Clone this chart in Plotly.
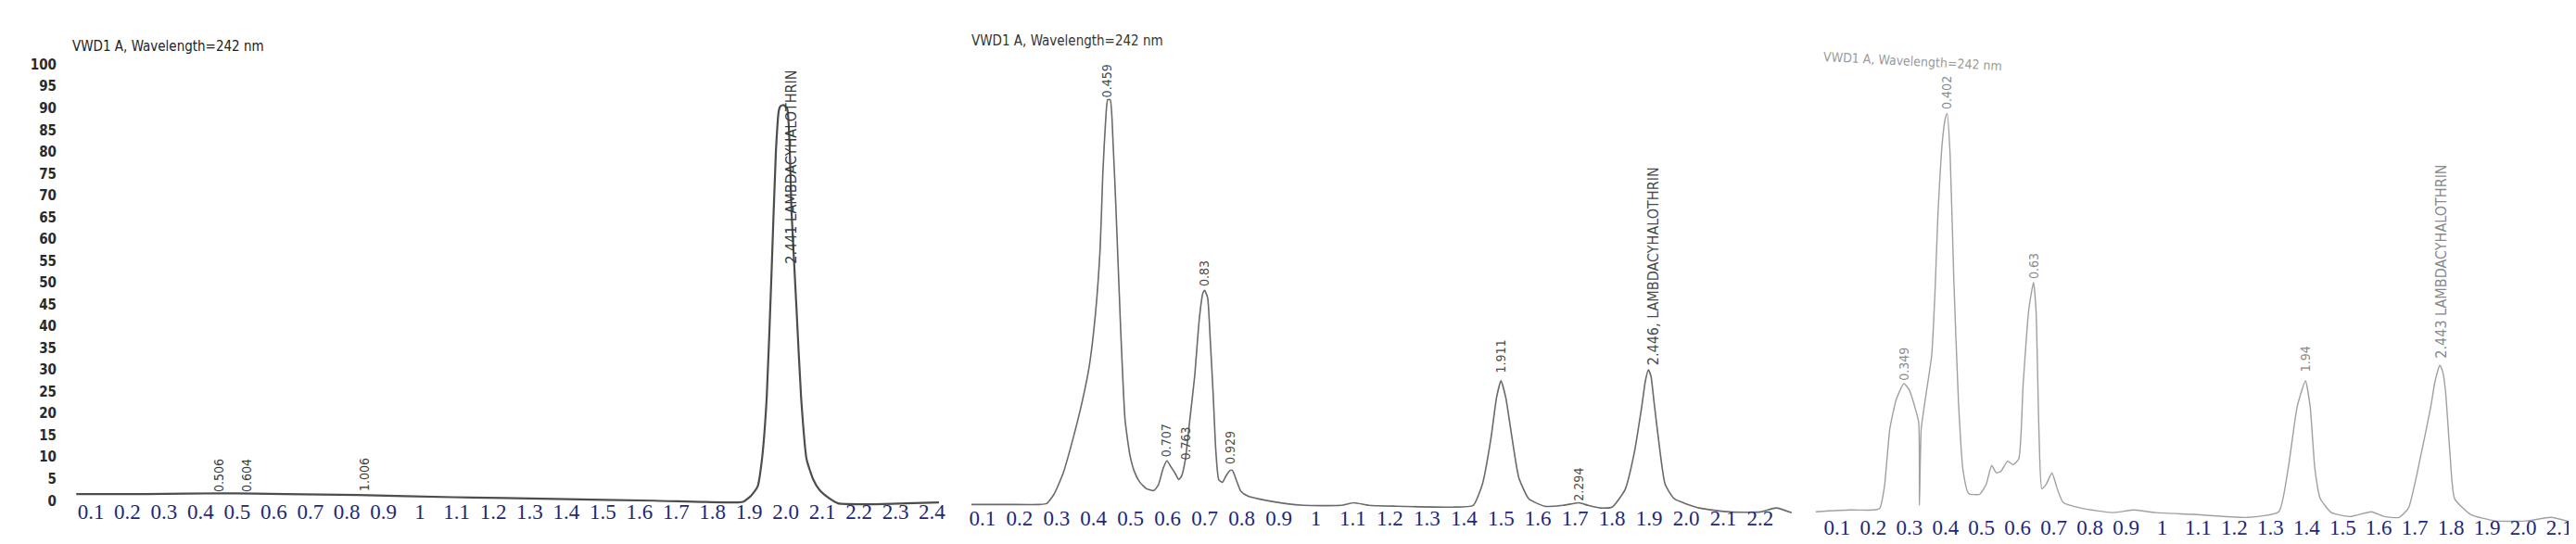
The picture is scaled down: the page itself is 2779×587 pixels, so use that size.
import plotly.graph_objects as go

W, H = 2779, 587

# ---------------- data (retention-time axis in label units, response in mAU-like units) ----------------
p1_x = [0.06, 0.25, 0.47, 0.63, 0.83, 1.09, 1.37, 1.64, 1.87, 1.885, 1.905, 1.923, 1.935, 1.948, 1.961,
        1.973, 1.981, 1.986, 1.994, 2.004, 2.016, 2.029, 2.042, 2.057, 2.075, 2.092, 2.118, 2.143,
        2.226, 2.327, 2.419]
p1_y = [1.5, 1.5, 1.7, 1.5, 1.3, 0.8, 0.4, 0.0, -0.4, -0.2, 1.1, 3.2, 9.5, 23.7, 51.8,
        79.9, 89.4, 90.5, 90.7, 89.9, 66.0, 44.8, 23.7, 9.5, 4.9, 2.5, 0.6, -0.6,
        -0.8, -0.6, -0.4]

p2_x = [0.070, 0.168, 0.255, 0.273, 0.293, 0.318, 0.343, 0.368, 0.388, 0.405, 0.418, 0.425, 0.433,
        0.438, 0.445, 0.453, 0.460, 0.473, 0.485, 0.498, 0.510, 0.525, 0.543, 0.563, 0.575, 0.588,
        0.598, 0.610, 0.620, 0.630, 0.638, 0.648, 0.660, 0.673, 0.685, 0.695, 0.700, 0.708, 0.715,
        0.723, 0.730, 0.738, 0.748, 0.758, 0.768, 0.775, 0.785, 0.798, 0.818, 0.868, 0.918, 0.968,
        1.068, 1.103, 1.143, 1.218, 1.368, 1.425, 1.450, 1.473, 1.488, 1.500, 1.513, 1.530, 1.548,
        1.575, 1.618, 1.668, 1.710, 1.735, 1.768, 1.800, 1.835, 1.860, 1.880, 1.890, 1.898, 1.905,
        1.913, 1.925, 1.943, 1.968, 2.035, 2.118, 2.200, 2.243, 2.285]
p2_y = [0.4, 0.4, 0.4, 0.6, 2.7, 7.6, 15.0, 23.5, 31.9, 44.0, 59.4, 76.3, 89.0,
        93.2, 93.2, 82.7, 69.3, 41.0, 19.9, 11.8, 8.0, 5.5, 4.0, 3.6, 4.9, 8.7,
        10.4, 8.9, 7.6, 6.1, 7.0, 10.8, 19.9, 29.8, 42.5, 48.8, 49.5, 47.8, 38.3,
        25.6, 12.9, 6.1, 5.5, 7.0, 8.2, 8.2, 6.1, 3.4, 2.3, 1.3, 0.6, 0.2,
        0.2, 0.8, 0.2, 0.0, -0.2, 0.2, 5.1, 15.6, 24.9, 28.8, 24.9, 15.6, 6.6,
        1.7, 0.0, 0.2, 0.8, 0.2, -0.4, -0.2, 3.8, 12.3, 22.8, 28.8, 31.3, 29.8,
        24.1, 15.6, 5.1, 1.7, -0.4, -1.3, -1.3, -0.4, -1.5]

p3_x = [0.041, 0.136, 0.200, 0.218, 0.231, 0.246, 0.264, 0.285, 0.300, 0.315, 0.326, 0.328, 0.333,
        0.346, 0.362, 0.372, 0.379, 0.392, 0.400, 0.405, 0.413, 0.423, 0.436, 0.449, 0.464, 0.495,
        0.513, 0.528, 0.541, 0.554, 0.572, 0.587, 0.603, 0.615, 0.631, 0.644, 0.651, 0.659, 0.667,
        0.679, 0.695, 0.708, 0.726, 0.777, 0.862, 0.923, 0.982, 1.085, 1.238, 1.323, 1.349, 1.374,
        1.397, 1.410, 1.423, 1.438, 1.469, 1.521, 1.579, 1.615, 1.656, 1.682, 1.718, 1.744, 1.756,
        1.769, 1.777, 1.785, 1.797, 1.810, 1.854, 1.923, 2.008, 2.077, 2.128]
p3_y = [0.0, 0.4, 0.4, 0.8, 5.7, 19.0, 25.8, 29.4, 27.9, 24.1, 20.5, 1.5, 19.0,
        26.8, 35.9, 52.2, 67.7, 85.4, 90.3, 91.3, 81.8, 53.7, 25.4, 9.3, 4.2, 4.0,
        6.3, 10.6, 8.9, 9.3, 11.6, 10.8, 12.1, 29.0, 46.5, 52.6, 45.9, 18.4, 5.3,
        6.3, 8.9, 5.7, 2.1, 0.8, -0.2, 0.4, -0.2, -0.6, -1.3, 0.0, 9.9, 24.1,
        30.0, 24.1, 9.9, 3.0, -0.2, -1.1, 0.0, -1.1, -1.3, 0.8, 13.5, 24.1, 30.0,
        33.6, 32.1, 27.5, 13.5, 3.0, -0.6, -2.1, -2.1, -1.3, -2.3]

# peak labels: (retention position, height at label foot, text)
p1_lbl_x = [0.449, 0.525, 0.847, 2.015]
p1_lbl_y = [1.5, 1.5, 1.7, 53.9]
p1_lbl_t = ["0.506", "0.604", "1.006", "2.441 LAMBDACYHALOTHRIN"]

p2_lbl_x = [0.435, 0.598, 0.648, 0.700, 0.770, 1.500, 1.710, 1.910]
p2_lbl_y = [93.2, 10.8, 10.1, 49.9, 9.1, 30.2, 0.8, 31.9]
p2_lbl_t = ["0.459", "0.707", "0.763", "0.83", "0.929", "1.911", "2.294", "2.446, LAMBDACYHALOTHRIN"]

p3_lbl_x = [0.285, 0.405, 0.644, 1.397, 1.772]
p3_lbl_y = [29.6, 91.8, 52.9, 31.7, 34.7]
p3_lbl_t = ["0.349", "0.402", "0.63", "1.94", "2.443 LAMBDACYHALOTHRIN"]

# tick labels
p1_ticks = [0.1 * i for i in range(1, 25)]
p1_ticktext = ["0.1", "0.2", "0.3", "0.4", "0.5", "0.6", "0.7", "0.8", "0.9", "1", "1.1", "1.2", "1.3",
               "1.4", "1.5", "1.6", "1.7", "1.8", "1.9", "2.0", "2.1", "2.2", "2.3", "2.4"]
p2_ticks = [0.1 * i for i in range(1, 23)]
p2_ticktext = p1_ticktext[:22]
p3_ticks = [0.1 * i for i in range(1, 22)]
p3_ticktext = p1_ticktext[:21]
y_ticks = list(range(0, 101, 5))

title_text = "VWD1 A, Wavelength=242 nm"

# ---------------- figure ----------------
fig = go.Figure()
fig.add_trace(go.Scatter(x=p1_x, y=p1_y, mode="lines", xaxis="x", yaxis="y",
                         line=dict(color="#4d4d4d", width=2.2, shape="spline", smoothing=0.5),
                         hoverinfo="skip", showlegend=False))
fig.add_trace(go.Scatter(x=p2_x, y=p2_y, mode="lines", xaxis="x2", yaxis="y2",
                         line=dict(color="#6a6a6a", width=1.6, shape="spline", smoothing=0.5),
                         hoverinfo="skip", showlegend=False))
fig.add_trace(go.Scatter(x=p3_x, y=p3_y, mode="lines", xaxis="x3", yaxis="y3",
                         line=dict(color="#a0a0a0", width=1.4, shape="spline", smoothing=0.5),
                         hoverinfo="skip", showlegend=False))

tickfont = dict(family="Liberation Serif, Times New Roman, serif", size=23, color="#1d2878")

def xax(dom, rng, tv, tt, standoff, anchor):
    return dict(domain=dom, range=rng, tickmode="array", tickvals=tv, ticktext=tt, anchor=anchor,
                showgrid=False, zeroline=False, showline=False, ticks="",
                tickfont=tickfont, ticklabelstandoff=standoff, fixedrange=True)

fig.update_layout(
    width=W, height=H, margin=dict(l=0, r=0, t=0, b=0),
    paper_bgcolor="white", plot_bgcolor="white",
    xaxis=xax([70 / W, 1010 / W], [0.049, 2.429], p1_ticks, p1_ticktext, -10, "y"),
    xaxis2=xax([1035 / W, 1935 / W], [0.055, 2.305], p2_ticks, p2_ticktext, -11, "y2"),
    xaxis3=xax([1945 / W, 2775 / W], [0.0205, 2.1487], p3_ticks, p3_ticktext, -12, "y3"),
    yaxis=dict(domain=[1 - 541 / H, 1 - 40 / H], range=[-1.27, 104.65], anchor="x",
               tickmode="array", tickvals=y_ticks, showgrid=False, zeroline=False, showline=False,
               ticks="", ticklabelstandoff=16,
               tickfont=dict(family="Liberation Sans Narrow, DejaVu Sans Condensed, sans-serif",
                             size=15, color="#2a2a2a", weight="bold"), fixedrange=True),
    yaxis2=dict(domain=[1 - 549 / H, 1 - 40 / H], range=[-1.69, 105.92], anchor="x2",
                visible=False, fixedrange=True),
    yaxis3=dict(domain=[1 - 560 / H, 1 - 40 / H], range=[-2.75, 107.19], anchor="x3",
                visible=False, fixedrange=True),
)

annotations = []
label_font = "Liberation Sans Narrow, DejaVu Sans Condensed, Arial, sans-serif"
for xs, ys, ts, ax, ay, col in [(p1_lbl_x, p1_lbl_y, p1_lbl_t, "x", "y", "#3a3a3a"),
                                (p2_lbl_x, p2_lbl_y, p2_lbl_t, "x2", "y2", "#4a4a4a"),
                                (p3_lbl_x, p3_lbl_y, p3_lbl_t, "x3", "y3", "#8a8a8a")]:
    for x, y, t in zip(xs, ys, ts):
        size = 16 if len(t) > 8 else 14
        annotations.append(dict(x=x, y=y, xref=ax, yref=ay, text=t, textangle=-90,
                                showarrow=False, xanchor="center", yanchor="bottom",
                                font=dict(family=label_font, size=size, color=col)))

annotations.append(dict(x=68 / W, y=1 - 42 / H, xref="paper", yref="paper", text=title_text,
                        showarrow=False, xanchor="left", yanchor="middle",
                        font=dict(family=label_font, size=15, color="#222222")))
annotations.append(dict(x=1039 / W, y=1 - 36 / H, xref="paper", yref="paper", text=title_text,
                        showarrow=False, xanchor="left", yanchor="middle",
                        font=dict(family=label_font, size=15, color="#333333")))
annotations.append(dict(x=1959 / W, y=1 - 58 / H, xref="paper", yref="paper", text=title_text,
                        showarrow=False, xanchor="left", yanchor="middle", textangle=3,
                        font=dict(family=label_font, size=14, color="#9a9a9a")))
fig.update_layout(annotations=annotations)

fig.write_html("out.html")
